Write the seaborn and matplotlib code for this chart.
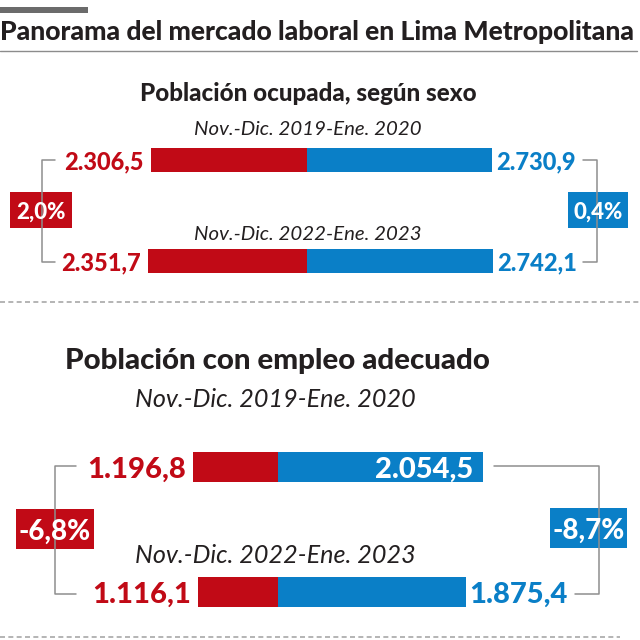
import matplotlib
matplotlib.use("Agg")
import matplotlib.pyplot as plt
from matplotlib.patches import Rectangle
import seaborn as sns
import pandas as pd

RED = "#C10A16"
BLUE = "#0A7FC7"
DARK = "#231F20"
GRAY = "#8E8E8E"

# data (miles de personas)
periods = ["Nov.-Dic. 2019-Ene. 2020", "Nov.-Dic. 2022-Ene. 2023"]
ocupada_mujeres = [2306.5, 2351.7]
ocupada_hombres = [2730.9, 2742.1]
ocupada_var = ["2,0%", "0,4%"]
adecuado_mujeres = [1196.8, 1116.1]
adecuado_hombres = [2054.5, 1875.4]
adecuado_var = ["-6,8%", "-8,7%"]

sns.set_theme(style="white")
plt.rcParams["font.family"] = ["Lato", "DejaVu Sans"]

fig = plt.figure(figsize=(6.4, 6.4), dpi=100)
bg = fig.add_axes([0, 0, 1, 1])
bg.set_xlim(0, 640)
bg.set_ylim(640, 0)
bg.axis("off")


def px_axes(x0, x1, y0, y1):
    return fig.add_axes([x0 / 640, 1 - y1 / 640, (x1 - x0) / 640, (y1 - y0) / 640])


def es(v):
    return f"{v:,.1f}".replace(",", "_").replace(".", ",").replace("_", ".")


def fit(t, width):
    w = t.get_window_extent(fig.canvas.get_renderer()).width
    t.set_fontsize(t.get_fontsize() * width / w)


def section(women, men, x_mid, left_w, right_w, xmax, y_first, y_gap, bar_px, size, inside=()):
    df = pd.DataFrame({"periodo": periods, "mujeres": women, "hombres": men})
    top = y_first - y_gap / 2
    bottom = y_first + y_gap * 1.5
    axl = px_axes(x_mid - left_w, x_mid, top, bottom)
    axr = px_axes(x_mid, x_mid + right_w, top, bottom)
    sns.barplot(data=df, x="mujeres", y="periodo", orient="h", color=RED,
                saturation=1, width=bar_px / y_gap, linewidth=0, ax=axl)
    sns.barplot(data=df, x="hombres", y="periodo", orient="h", color=BLUE,
                saturation=1, width=bar_px / y_gap, linewidth=0, ax=axr)
    axl.set_xlim(xmax, 0)
    axr.set_xlim(0, xmax)
    for ax in (axl, axr):
        ax.set_ylim(1.5, -0.5)
        ax.axis("off")
    for i, (w, m) in enumerate(zip(women, men)):
        axl.annotate(es(w), (w, i), xytext=(-5, 0), textcoords="offset points",
                     ha="right", va="center_baseline", color=RED,
                     fontsize=size, fontweight=900)
        if i in inside:
            axr.annotate(es(m), (m, i), xytext=(-7, 0), textcoords="offset points",
                         ha="right", va="center_baseline", color="white",
                         fontsize=size, fontweight=900)
        else:
            axr.annotate(es(m), (m, i), xytext=(3, 0), textcoords="offset points",
                         ha="left", va="center_baseline", color=BLUE,
                         fontsize=size, fontweight=900)


def pct_box(x, y, w, h, txt, color, size):
    bg.add_patch(Rectangle((x, y), w, h, color=color, lw=0))
    bg.text(x + w / 2, y + h / 2, txt, ha="center", va="center_baseline",
            color="white", fontsize=size, fontweight=900)


# header
bg.add_patch(Rectangle((0, 7), 88, 6, color="#6B6B6B", lw=0))
t = bg.text(0, 40, "Panorama del mercado laboral en Lima Metropolitana",
            ha="left", va="baseline", color=DARK, fontsize=20, fontweight=900)
fit(t, 636)
bg.plot([0, 637], [51, 51], color="#8C8C8C", lw=1)

# section 1
t = bg.text(308, 101, "Población ocupada, según sexo", ha="center", va="baseline",
            color=DARK, fontsize=16, fontweight=900)
fit(t, 335)
t = bg.text(308, 135, periods[0], ha="center", va="baseline", color=DARK,
            fontsize=12, style="italic")
fit(t, 227)
t = bg.text(308, 240, periods[1], ha="center", va="baseline", color=DARK,
            fontsize=12, style="italic")
fit(t, 227)
section(ocupada_mujeres, ocupada_hombres, 307, 203, 203, 3000, 160, 101, 24, 17)
bg.plot([55, 42, 42, 55], [160, 160, 262, 262], color=GRAY, lw=1.1)
bg.plot([583, 597, 597, 583], [160, 160, 262, 262], color=GRAY, lw=1.1)
pct_box(10, 192, 62, 36, ocupada_var[0], RED, 16)
pct_box(568, 192, 60, 36, ocupada_var[1], BLUE, 16)

bg.plot([0, 640], [302, 302], color="#A8A8A8", lw=1.2, ls=(0, (3, 2)))

# section 2
t = bg.text(277, 369, "Población con empleo adecuado", ha="center", va="baseline",
            color=DARK, fontsize=20, fontweight=900)
fit(t, 426)
t = bg.text(275, 407, periods[0], ha="center", va="baseline", color=DARK,
            fontsize=14, style="italic")
fit(t, 281)
t = bg.text(275, 563, periods[1], ha="center", va="baseline", color=DARK,
            fontsize=14, style="italic")
fit(t, 281)
section(adecuado_mujeres, adecuado_hombres, 278, 214, 300, 3000, 467, 125, 30, 21, inside=(0,))
bg.plot([76, 55, 55, 76], [466, 466, 594, 594], color=GRAY, lw=1.1)
bg.plot([494, 599, 599, 575], [466, 466, 594, 594], color=GRAY, lw=1.1)
pct_box(16, 509, 78, 40, adecuado_var[0], RED, 20)
pct_box(550, 508, 77, 40, adecuado_var[1], BLUE, 20)

bg.plot([0, 620], [637, 637], color="#A8A8A8", lw=1.2, ls=(0, (3, 2)))

fig.savefig("out.png", dpi=100)
